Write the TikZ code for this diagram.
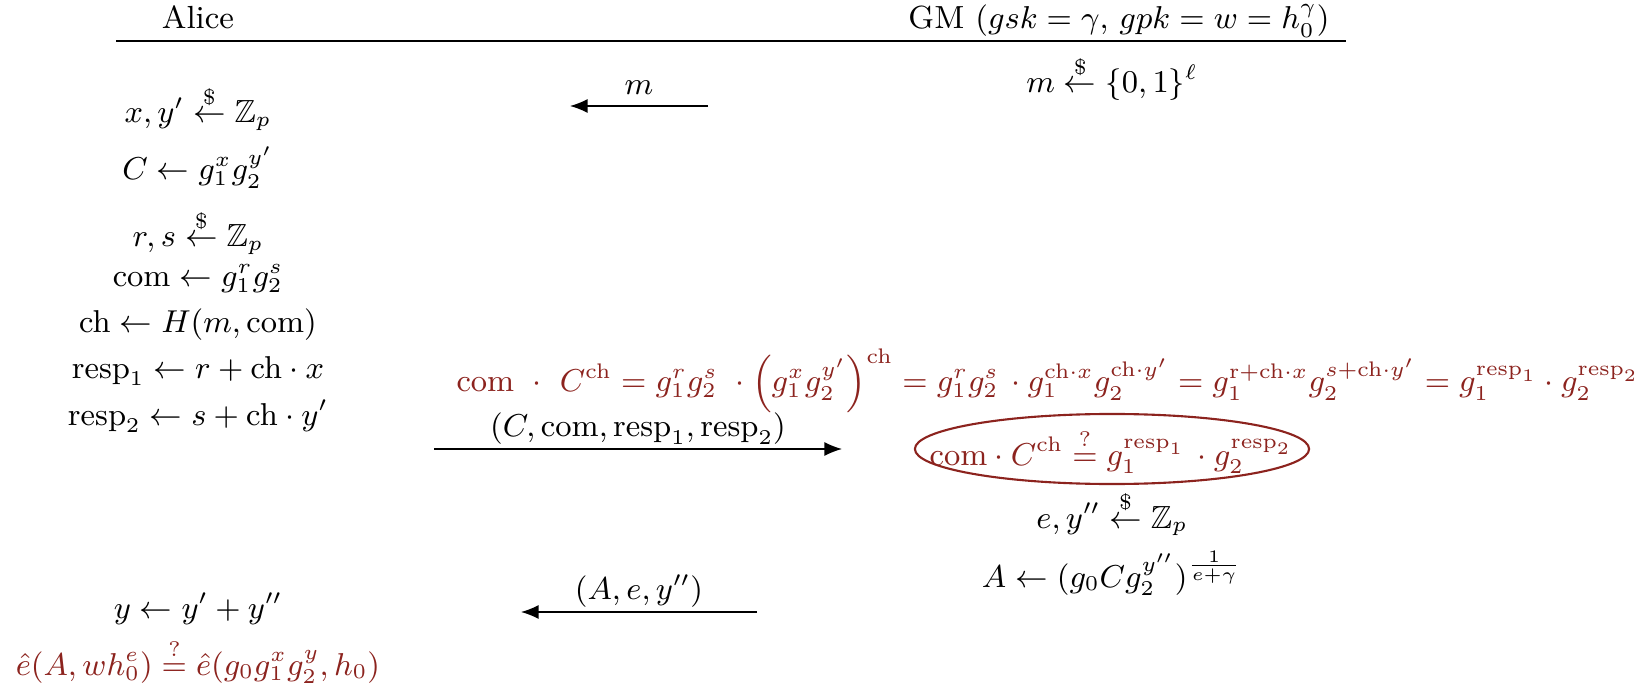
\documentclass[tikz,border=0pt]{standalone}
\usepackage{amsmath}
\usepackage{amssymb}
\usepackage{xcolor}
\usepackage{tikz}
\usetikzlibrary{arrows.meta, positioning, calc}

\definecolor{verifred}{RGB}{140,35,30}
\newcommand{\sampleto}{\overset{\$}{\leftarrow}}

\begin{document}
\begin{tikzpicture}[x=0.01cm, y=-0.01cm,
            every node/.style={font=\fontsize{9.1}{11}\selectfont, inner sep=0pt},
            stepline/.style={anchor=base},
            verif/.style={anchor=base, text=verifred},
            msg/.style={-{Latex[length=5pt, width=4pt]}},
            msglabel/.style={midway, above=1pt}
        ]
            \useasboundingbox (0,0) rectangle (1651,685);

            % Cabeçalho das duas partes
            \node[stepline] (alice) at (198,29) {Alice};
            \node[stepline] (gm) at (1119,29) {GM $(gsk = \gamma,\, gpk = w = h_0^{\gamma})$};
            \coordinate (rule-l) at (116,41);
            \coordinate (rule-r) at (1346,41);
            \draw (rule-l) -- (rule-r);

            % Passos de Alice
            \node[stepline] (a1) at (198,123) {$x, y' \sampleto \mathbb{Z}_p$};
            \node[stepline] (a2) at (198,180) {$C \leftarrow g_1^{x} g_2^{y'}$};
            \node[stepline] (a3) at (198,247) {$r, s \sampleto \mathbb{Z}_p$};
            \node[stepline] (a4) at (198,287) {$\mathrm{com} \leftarrow g_1^{r} g_2^{s}$};
            \node[stepline] (a5) at (198,333) {$\mathrm{ch} \leftarrow H(m, \mathrm{com})$};
            \node[stepline] (a6) at (198,378) {$\mathrm{resp}_1 \leftarrow r + \mathrm{ch} \cdot x$};
            \node[stepline] (a7) at (198,425) {$\mathrm{resp}_2 \leftarrow s + \mathrm{ch} \cdot y'$};
            \node[stepline] (a8) at (198,618) {$y \leftarrow y' + y''$};
            \node[verif] (a9) at (198,675) {$\hat{e}(A, w h_0^{e}) \overset{?}{=} \hat{e}(g_0 g_1^{x} g_2^{y}, h_0)$};

            % Passos do GM
            \node[stepline] (g1) at (1112,93) {$m \sampleto \{0,1\}^{\ell}$};
            \node[verif] (chk) at (1111,465) {$\mathrm{com} \cdot C^{\mathrm{ch}} \overset{?}{=} g_1^{\mathrm{resp}_1}\, \cdot g_2^{\mathrm{resp}_2}$};
            \node[stepline] (g2) at (1112,528) {$e, y'' \sampleto \mathbb{Z}_p$};
            \node[stepline] (g3) at (1112,587) {$A \leftarrow (g_0 C g_2^{y''})^{\frac{1}{e+\gamma}}$};
            \coordinate (ring) at (1112,449);
            \draw[verifred, semithick] (ring) ellipse [x radius=1.97cm, y radius=0.35cm];

            % Igualdade de verificação
            \node[verif] (eq) at (1048,392) {$\mathrm{com}\ \cdot\ C^{\mathrm{ch}} = g_1^{r} g_2^{s}\ \cdot \Big(g_1^{x} g_2^{y'}\Big)^{\mathrm{ch}} = g_1^{r} g_2^{s}\, \cdot g_1^{\mathrm{ch}\cdot x} g_2^{\mathrm{ch}\cdot y'} = g_1^{\mathrm{r}+\mathrm{ch}\cdot x} g_2^{s+\mathrm{ch}\cdot y'} = g_1^{\mathrm{resp}_1} \cdot g_2^{\mathrm{resp}_2}$};

            % Mensagens
            \coordinate (m-from) at (708,106);
            \coordinate (m-to) at (570,106);
            \draw[msg] (m-from) -- (m-to) node[midway, above=3pt] {$m$};

            \coordinate (c-from) at (434,449);
            \coordinate (c-to) at (842,449);
            \draw[msg] (c-from) -- (c-to) node[msglabel] {$(C, \mathrm{com}, \mathrm{resp}_1, \mathrm{resp}_2)$};

            \coordinate (s-from) at (757,612);
            \coordinate (s-to) at (521,612);
            \draw[msg] (s-from) -- (s-to) node[msglabel] {$(A, e, y'')$};
        \end{tikzpicture}
\end{document}
